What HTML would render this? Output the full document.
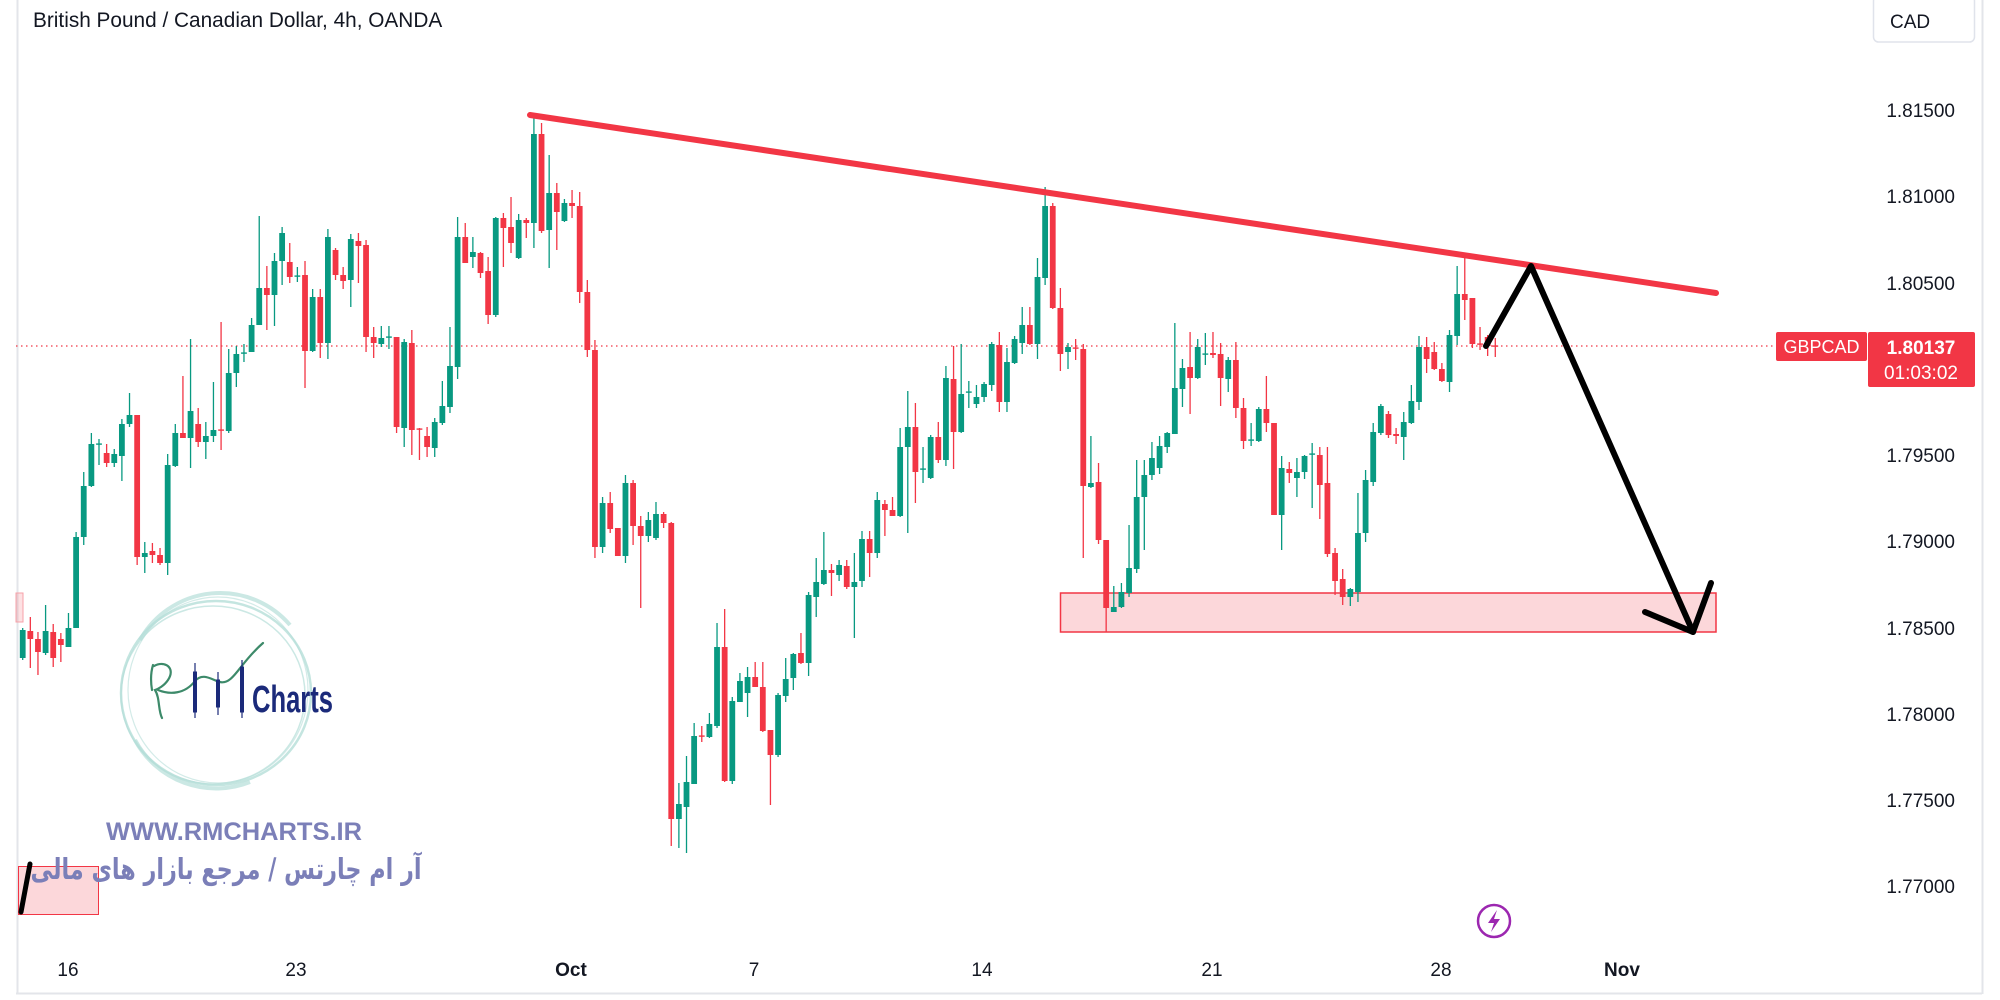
<!DOCTYPE html>
<html><head><meta charset="utf-8">
<style>
html,body{margin:0;padding:0;background:#fff;}
svg{display:block;}
text{font-family:"Liberation Sans",sans-serif;}
</style></head>
<body>
<svg id="s" width="2000" height="1000" viewBox="0 0 2000 1000" xmlns="http://www.w3.org/2000/svg">
<rect x="0" y="0" width="2000" height="1000" fill="#ffffff"/>
<!-- frame -->
<line x1="17.5" y1="0" x2="17.5" y2="993" stroke="#e3e5ea" stroke-width="2"/>
<line x1="16" y1="993.5" x2="1982" y2="993.5" stroke="#e3e5ea" stroke-width="2"/>
<line x1="1982.5" y1="0" x2="1982.5" y2="994" stroke="#e3e5ea" stroke-width="2"/>

<!-- title -->
<text x="33" y="27" font-size="20.8" fill="#131722">British Pound / Canadian Dollar, 4h, OANDA</text>

<!-- CAD box -->
<rect x="1873.5" y="-4" width="101" height="46" rx="5" fill="#fff" stroke="#e0e3eb" stroke-width="1.5"/>
<text x="1890" y="28" font-size="19" fill="#131722">CAD</text>

<!-- price labels -->
<g font-size="19" fill="#131722" text-anchor="end">
<text x="1955" y="117">1.81500</text>
<text x="1955" y="203">1.81000</text>
<text x="1955" y="290">1.80500</text>
<text x="1955" y="462">1.79500</text>
<text x="1955" y="548">1.79000</text>
<text x="1955" y="635">1.78500</text>
<text x="1955" y="721">1.78000</text>
<text x="1955" y="807">1.77500</text>
<text x="1955" y="893">1.77000</text>
</g>

<!-- time labels -->
<g font-size="19" fill="#131722" text-anchor="middle">
<text x="68" y="976">16</text>
<text x="296" y="976">23</text>
<text x="571" y="976" font-weight="bold">Oct</text>
<text x="754" y="976">7</text>
<text x="982" y="976">14</text>
<text x="1212" y="976">21</text>
<text x="1441" y="976">28</text>
<text x="1622" y="976" font-weight="bold">Nov</text>
</g>

<!-- watermark logo -->
<g fill="none" stroke="#b5ded8">
<ellipse cx="216" cy="693" rx="95" ry="92" stroke-width="2.5" opacity="0.8"/>
<ellipse cx="213" cy="695" rx="92" ry="89" stroke-width="1.5" opacity="0.7"/>
<ellipse cx="218" cy="690" rx="90" ry="93" stroke-width="1.2" opacity="0.6"/>
<path d="M140 640 A92 92 0 0 1 290 625" stroke-width="4" opacity="0.7"/>
<path d="M135 740 A92 92 0 0 0 250 782" stroke-width="4" opacity="0.7"/>
</g>
<path d="M153 665 C150 675 151 684 152 690 M154 666 C165 660 176 668 168 680 C164 686 158 689 155 690 C160 698 158 710 162 718 M158 690 C170 695 185 694 195 681 C203 672 212 680 220 682 C228 684 234 676 241 667 C248 658 255 650 263 643" fill="none" stroke="#3d8a6a" stroke-width="2.2" stroke-linecap="round"/>
<g stroke="#1b2a7a" fill="#1b2a7a">
<line x1="195" y1="663" x2="195" y2="718" stroke-width="1.2"/>
<rect x="193.5" y="672" width="3" height="40"/>
<line x1="218" y1="672" x2="218" y2="715" stroke-width="1.2"/>
<rect x="216.5" y="680" width="3" height="27"/>
<line x1="242" y1="660" x2="242" y2="718" stroke-width="1.2"/>
<rect x="240.5" y="667" width="3" height="45"/>
</g>
<text x="252" y="712" font-size="38" font-weight="bold" fill="#1b2a7a" textLength="81" lengthAdjust="spacingAndGlyphs">Charts</text>
<text x="106" y="840" font-size="25" font-weight="bold" fill="#7b7fb8" textLength="256" lengthAdjust="spacingAndGlyphs">WWW.RMCHARTS.IR</text>

<!-- left-edge drawings -->
<rect x="16" y="593" width="7" height="29" fill="rgba(242,54,69,0.15)" stroke="#f7a1a8" stroke-width="1"/>
<rect x="18.5" y="866.5" width="80" height="48" fill="rgba(242,54,69,0.2)" stroke="#f23645" stroke-width="1"/>
<line x1="30" y1="864" x2="21" y2="912" stroke="#000" stroke-width="5" stroke-linecap="round"/>
<g transform="translate(226,879) scale(0.77,1)">
<text x="0" y="0" font-size="29" font-weight="bold" fill="#7b7fb8" text-anchor="middle" style="font-family:'DejaVu Sans','Noto Sans CJK SC',sans-serif">آر ام چارتس / مرجع بازار های مالی</text>
</g>

<!-- support zone -->
<rect x="1060.5" y="593" width="655.5" height="39" fill="rgba(242,54,69,0.2)" stroke="#f23645" stroke-width="1.5"/>

<!-- current price dotted line -->
<line x1="16" y1="346" x2="1776" y2="346" stroke="#f23645" stroke-width="1.3" stroke-dasharray="1.5 3.5"/>

<g id="candles"></g>

<!-- trendline -->
<line x1="530" y1="115" x2="1716" y2="293" stroke="#f23645" stroke-width="6" stroke-linecap="round"/>

<!-- arrow -->
<polyline points="1486,346 1531,266 1693,632" fill="none" stroke="#000" stroke-width="6" stroke-linecap="round" stroke-linejoin="round"/>
<polyline points="1645,612 1693,632 1711,583" fill="none" stroke="#000" stroke-width="6" stroke-linecap="round" stroke-linejoin="round"/>

<!-- price tags -->
<rect x="1776" y="332" width="91" height="29" rx="2" fill="#f23645"/>
<text x="1821.5" y="353" font-size="18" fill="#fff" text-anchor="middle">GBPCAD</text>
<rect x="1868" y="332" width="107" height="55" rx="2" fill="#f23645"/>
<text x="1921" y="354" font-size="19" font-weight="bold" fill="#fff" text-anchor="middle">1.80137</text>
<text x="1921" y="379" font-size="19" fill="#fff" text-anchor="middle">01:03:02</text>

<!-- lightning icon -->
<circle cx="1494" cy="921" r="16" fill="none" stroke="#9c27b0" stroke-width="2.5"/>
<path d="M1497 910 L1488 923 L1494 923 L1491 932 L1500 919 L1494 919 Z" fill="#9c27b0"/>
</svg>
<script>
var D="G 630 658 628 660|R 631 639 617 668|R 639 652 632 675|G 631 653 605 655|R 632 658 624 667|R 639 645 633 662|G 628 647 613 647|G 537 628 532 628|G 486 537 472 545|G 444 486 433 487|G 444 445 439 465|R 453 463 444 467|G 454 463 449 467|G 424 456 419 481|G 415 424 393 427|R 415 557 415 565|G 553 557 542 573|R 551 555 543 563|R 555 563 548 565|G 465 563 454 575|G 433 466 424 467|R 433 438 376 438|G 411 438 339 468|R 424 442 408 447|G 436 442 422 459|G 430 436 382 442|R 430 431 322 450|G 373 431 349 433|G 354 373 346 387|G 353 354 344 362|G 325 352 318 352|G 288 325 216 325|R 288 295 266 330|G 261 295 253 326|G 233 261 227 285|R 262 277 243 283|G 276 277 267 282|R 275 351 261 388|G 297 351 289 352|R 297 343 289 358|G 237 343 229 359|R 250 275 248 280|R 275 281 267 289|G 239 280 234 307|R 241 246 233 283|R 245 337 240 352|R 337 343 327 358|G 338 344 326 347|G 337 338 326 349|R 337 427 337 433|G 342 428 339 447|R 343 430 330 455|R 429 430 428 460|R 436 447 427 457|G 422 448 418 457|G 406 423 381 425|G 366 407 327 413|G 237 367 217 379|R 237 263 223 263|G 252 257 237 268|R 253 273 252 278|R 271 315 257 324|G 218 315 217 317|R 218 228 213 267|R 227 243 197 253|G 220 258 214 259|R 220 223 218 238|G 134 223 117 248|R 134 231 123 233|G 193 230 155 268|R 193 212 183 250|G 203 221 199 222|R 203 206 190 218|R 206 292 192 303|R 292 350 280 357|R 350 547 340 558|G 503 547 497 553|R 503 529 492 533|R 528 556 528 556|G 483 556 475 563|R 483 526 480 545|R 526 536 516 608|G 520 536 512 542|G 514 538 502 540|R 514 523 512 528|R 523 819 522 846|G 804 819 783 848|G 782 807 756 853|G 736 784 723 784|R 736 737 726 742|G 724 737 713 738|G 647 726 623 728|R 647 781 609 782|G 701 781 697 784|G 681 702 673 702|G 677 693 667 717|R 677 687 662 687|R 687 731 662 732|R 730 755 730 805|G 695 755 693 757|G 679 696 658 702|G 654 678 653 690|R 653 663 633 664|G 595 663 592 676|G 582 597 558 617|G 570 584 532 585|R 570 573 564 596|G 565 575 560 581|R 566 587 560 589|G 582 587 553 638|G 539 581 531 587|R 539 553 531 577|G 500 553 492 558|R 504 510 500 536|R 510 516 497 516|G 447 516 428 517|G 427 447 391 533|R 427 472 403 503|G 469 470 447 483|G 437 478 435 479|R 437 460 422 463|G 378 460 366 466|R 379 432 346 469|G 394 432 344 433|G 392 393 381 408|G 397 404 385 408|G 384 397 382 402|G 344 385 342 391|R 345 402 332 412|G 362 402 348 412|G 339 363 336 364|G 325 343 307 354|R 325 344 307 345|G 277 344 258 359|G 206 278 187 285|R 206 308 203 309|R 308 354 288 371|G 347 352 343 369|R 348 349 339 360|R 349 486 344 558|G 483 487 436 488|R 482 540 463 544|R 540 608 540 632|G 607 612 586 612|G 592 607 583 608|G 568 593 525 597|G 497 569 460 573|G 475 497 460 550|G 458 475 442 480|G 446 468 436 474|G 433 447 432 453|G 388 434 323 434|G 368 389 359 407|R 367 378 332 414|G 347 378 339 379|G 354 355 333 365|R 353 355 332 358|R 354 378 343 406|G 360 379 357 392|R 360 408 342 418|R 408 441 398 449|G 440 441 423 446|G 409 441 407 442|R 409 423 376 432|R 423 515 423 515|G 468 515 456 550|R 469 473 462 483|G 472 478 458 497|G 456 472 455 479|G 454 455 443 508|R 455 485 447 519|R 483 554 447 557|R 553 581 548 595|R 579 597 569 605|G 589 597 588 606|G 533 592 493 602|G 480 533 470 542|G 432 482 423 486|G 406 433 404 435|R 414 435 411 438|R 434 436 428 444|G 422 437 412 460|G 401 423 385 424|G 347 402 336 410|R 347 359 337 373|R 352 369 342 370|R 369 381 363 382|G 335 382 330 392|G 294 336 266 345|R 294 300 258 320|R 298 344 298 348|R 344 345 327 350|R 337 346 335 356|R 346 347 338 357";
var g=document.getElementById('candles'),h="";
D.split('|').forEach(function(r,i){
 var p=r.split(' '),c=p[0]=='G'?'#089981':'#f23645';
 var bt=+p[1],bb=+p[2],wt=+p[3],wb=+p[4];
 var x=22.7+i*7.63;
 if(bb-bt<1.2){bt-=0.6;bb=bt+1.4;}
 h+='<line x1="'+x.toFixed(2)+'" y1="'+wt+'" x2="'+x.toFixed(2)+'" y2="'+wb+'" stroke="'+c+'" stroke-width="1.3"/>';
 h+='<rect x="'+(x-2.9).toFixed(2)+'" y="'+bt+'" width="5.8" height="'+(bb-bt)+'" fill="'+c+'"/>';
});
g.innerHTML=h;
</script>
</body></html>
